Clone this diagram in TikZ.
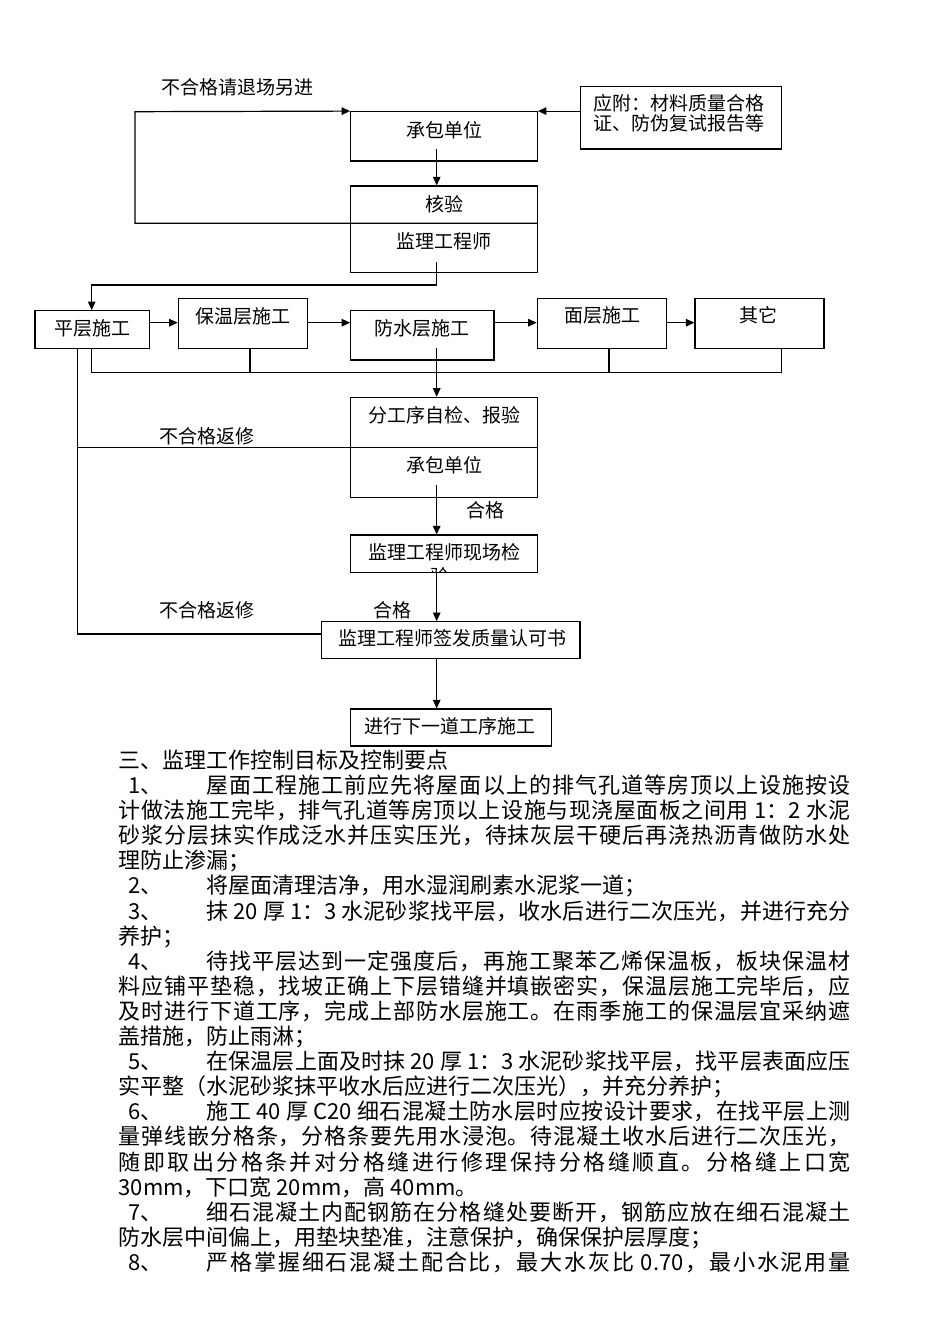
\documentclass[tikz,border=0pt]{standalone}
\usepackage{fontspec}
\setmainfont{Noto Sans CJK SC}
\usetikzlibrary{arrows.meta}

\newcommand\flowfont{\fontsize{19pt}{22pt}\selectfont}
\newcommand\bodyfont{\fontsize{22pt}{25pt}\selectfont}

% spread the characters of one line over the full width
\def\spreadaux#1{#1\futurelet\spreadnxt\spreadnext}
\def\spreadnext{\ifx\spreadnxt\relax\expandafter\spreadstop\else\hfil\expandafter\spreadaux\fi}
\def\spreadstop\relax{}
\newcommand\spreadchars[1]{\spreadaux#1\relax}
\newcommand\numb[1]{\makebox[88pt][l]{\hspace{10pt}#1、}}
\newcommand\fullline[1]{\hbox to 732pt{\spreadchars{#1}}}
\newcommand\fullitem[2]{\hbox to 732pt{\numb{#1}\spreadchars{#2}}}

\begin{document}
\begin{tikzpicture}[x=1pt,y=-1pt,line width=1.2pt,
  box/.style={draw,inner sep=0pt},
  lbl/.style={inner sep=0pt,font=\flowfont,text height=16.7pt,text depth=2.3pt},
  bodyline/.style={anchor=west,inner sep=0pt,font=\bodyfont,text height=19.4pt,text depth=2.6pt},
  arr/.style={-{Triangle[length=8.5pt,width=7.5pt]}}]
\fill[white] (0,0) rectangle (950,1344);
\useasboundingbox (0,0) rectangle (950,1344);

% boxes
\node[box,minimum width=186.6pt,minimum height=49.3pt] (cb1) at (444,136.35) {};
\node[box,minimum width=186.6pt,minimum height=86.7pt] (hy) at (444,229.35) {};
\node[box,minimum width=201pt,minimum height=62.3pt] (fj) at (681.2,117.85) {};
\node[box,minimum width=114.3pt,minimum height=37.6pt] (pc) at (92.15,329.5) {};
\node[box,minimum width=129pt,minimum height=50pt] (bw) at (242.8,323.3) {};
\node[box,minimum width=143.3pt,minimum height=49.3pt] (fs) at (422.35,335.35) {};
\node[box,minimum width=129.4pt,minimum height=50pt] (mc) at (602,323.3) {};
\node[box,minimum width=129pt,minimum height=50pt] (qt) at (759.5,323.3) {};
\node[box,minimum width=186.6pt,minimum height=100pt] (fg) at (444,447.3) {};
\node[box,minimum width=186.6pt,minimum height=37.3pt] (xc) at (444,553.65) {};
\node[box,minimum width=258.3pt,minimum height=36.6pt] (qf) at (450.85,640) {};
\node[box,minimum width=201pt,minimum height=37pt] (jx) at (451.2,727.5) {};

\node[lbl] (cb1t) at (444,130) {承包单位};
\node[lbl] (hyt1) at (444,204) {核验};
\node[lbl] (hyt2) at (444,241.7) {监理工程师};
\node[lbl,anchor=west] (fjt1) at (593,103.3) {应附：材料质量合格};
\node[lbl,anchor=west] (fjt2) at (593,123.3) {证、防伪复试报告等};
\node[lbl] (pct) at (92.5,328.3) {平层施工};
\node[lbl] (bwt) at (243,316.7) {保温层施工};
\node[lbl] (fst) at (421.7,328.3) {防水层施工};
\node[lbl] (mct) at (602,315) {面层施工};
\node[lbl] (qtt) at (758,315) {其它};
\node[lbl] (fgt1) at (444,415) {分工序自检、报验};
\node[lbl] (fgt2) at (444,465) {承包单位};
\node[lbl] (xct) at (444,552.3) {监理工程师现场检};
\begin{scope}
\clip (351.5,536) rectangle (536.5,571);
\node[lbl] (xct2) at (440,576) {验};% cut off by the box
\end{scope}
\node[lbl] (qft) at (452,638) {监理工程师签发质量认可书};
\node[lbl] (jxt) at (450,726.7) {进行下一道工序施工};

% connectors
\coordinate (k0) at (135,111.7);
\coordinate (d1) at (350.7,223.3);
\draw[arr] (hy.east |- d1) -- (d1) -- (k0 |- d1) -- (k0) -- (cb1.north west);
\draw[arr] (fj.west |- cb1.north) -- (cb1.north east);

\coordinate (s1) at (436.7,149);
\draw[arr] (s1) -- (s1 |- hy.north);
\coordinate (s2) at (436.7,261.7);
\coordinate (k1) at (91.7,285);
\draw[arr] (s2) -- (s2 |- k1) -- (k1) -- (k1 |- pc.north);

\coordinate (r0) at (0,322.7);
\draw[arr] (pc.east |- r0) -- (bw.west |- r0);
\draw[arr] (bw.east |- r0) -- (fs.west |- r0);
\draw[arr] (fs.east |- r0) -- (mc.west |- r0);
\draw[arr] (mc.east |- r0) -- (qt.west |- r0);

\coordinate (c0) at (91.7,372.7);
\coordinate (c1) at (781.7,372.7);
\coordinate (c2) at (250,372.7);
\coordinate (c3) at (609,372.7);
\draw (c0 |- pc.south) -- (c0) -- (c1) -- (c1 |- qt.south);
\draw (c2) -- (c2 |- bw.south);
\draw (c3) -- (c3 |- mc.south);

\coordinate (s3) at (436.7,348);
\draw[arr] (s3) -- (s3 |- fg.north);

\coordinate (v1) at (77.8,634);
\draw (v1 |- pc.south) -- (v1) -- (v1 -| qf.west);
\coordinate (d2) at (77.8,447.7);
\draw (d2) -- (d2 -| fg.east);

\coordinate (s4) at (436.7,485);
\draw[arr] (s4) -- (s4 |- xc.north);
\draw[arr] (s4 |- xc.south) -- (s4 |- qf.north);
\draw[arr] (s4 |- qf.south) -- (s4 |- jx.north);

\node[lbl] (bad0) at (237.5,87) {不合格请退场另进};
\node[lbl] (bad1) at (206.5,436.7) {不合格返修};
\node[lbl] (ok1) at (485,510) {合格};
\node[lbl] (bad2) at (206.5,610) {不合格返修};
\node[lbl] (ok2) at (392.5,610) {合格};

% text below the chart
\node[bodyline] (l0) at (118,760) {三、监理工作控制目标及控制要点};
\node[bodyline] (l1) at (118,785.1) {\fullitem{1}{屋面工程施工前应先将屋面以上的排气孔道等房顶以上设施按设}};
\node[bodyline] (l2) at (118,810.2) {\fullline{计做法施工完毕，排气孔道等房顶以上设施与现浇屋面板之间用{ 1：2 }水泥}};
\node[bodyline] (l3) at (118,835.3) {\fullline{砂浆分层抹实作成泛水并压实压光，待抹灰层干硬后再浇热沥青做防水处}};
\node[bodyline] (l4) at (118,860.4) {理防止渗漏；};
\node[bodyline] (l5) at (118,885.5) {\numb{2}将屋面清理洁净，用水湿润刷素水泥浆一道；};
\node[bodyline] (l6) at (118,910.6) {\fullitem{3}{抹{ 20 }厚{ 1：3 }水泥砂浆找平层，收水后进行二次压光，并进行充分}};
\node[bodyline] (l7) at (118,935.7) {养护；};
\node[bodyline] (l8) at (118,960.8) {\fullitem{4}{待找平层达到一定强度后，再施工聚苯乙烯保温板，板块保温材}};
\node[bodyline] (l9) at (118,985.9) {\fullline{料应铺平垫稳，找坡正确上下层错缝并填嵌密实，保温层施工完毕后，应}};
\node[bodyline] (l10) at (118,1011) {\fullline{及时进行下道工序，完成上部防水层施工。在雨季施工的保温层宜采纳遮}};
\node[bodyline] (l11) at (118,1036.1) {盖措施，防止雨淋；};
\node[bodyline] (l12) at (118,1061.2) {\fullitem{5}{在保温层上面及时抹{ 20 }厚{ 1：3 }水泥砂浆找平层，找平层表面应压}};
\node[bodyline] (l13) at (118,1086.3) {实平整（水泥砂浆抹平收水后应进行二次压光），并充分养护；};
\node[bodyline] (l14) at (118,1111.4) {\fullitem{6}{施工{ 40 }厚{ C20 }细石混凝土防水层时应按设计要求，在找平层上测}};
\node[bodyline] (l15) at (118,1136.5) {\fullline{量弹线嵌分格条，分格条要先用水浸泡。待混凝土收水后进行二次压光，}};
\node[bodyline] (l16) at (118,1161.6) {\fullline{随即取出分格条并对分格缝进行修理保持分格缝顺直。分格缝上口宽}};
\node[bodyline] (l17) at (118,1186.7) {30mm，下口宽 20mm，高 40mm。};
\node[bodyline] (l18) at (118,1211.8) {\fullitem{7}{细石混凝土内配钢筋在分格缝处要断开，钢筋应放在细石混凝土}};
\node[bodyline] (l19) at (118,1236.9) {防水层中间偏上，用垫块垫准，注意保护，确保保护层厚度；};
\node[bodyline] (l20) at (118,1262) {\fullitem{8}{严格掌握细石混凝土配合比，最大水灰比{ 0.70}，最小水泥用量}};
\end{tikzpicture}
\end{document}
